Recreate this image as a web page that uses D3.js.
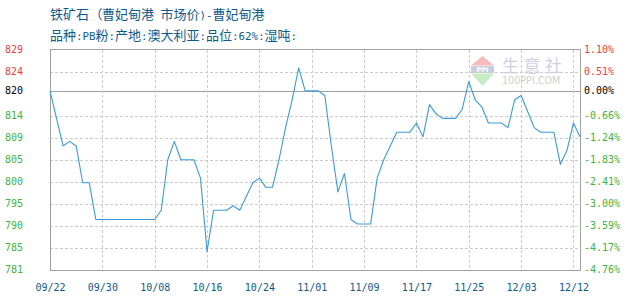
<!DOCTYPE html>
<html>
<head>
<meta charset="utf-8">
<script src="https://cdn.jsdelivr.net/npm/d3@7"></script>
<style>
  html, body { margin: 0; padding: 0; background: #fff; }
  svg { display: block; }
</style>
</head>
<body>
<svg id="chart" width="630" height="300"></svg>
<script>
// ---------- data ----------
const title = "铁矿石 （曹妃甸港 市场价)-曹妃甸港";
const subtitle = "品种:PB粉:产地:澳大利亚:品位:62%:湿吨:";
const baseValue = 820;

const dates = [
  "09/22","09/23","09/24","09/25","09/26","09/27","09/28","09/29","09/30",
  "10/01","10/02","10/03","10/04","10/05","10/06","10/07","10/08","10/09","10/10","10/11",
  "10/12","10/13","10/14","10/15","10/16","10/17","10/18","10/19","10/20","10/21",
  "10/22","10/23","10/24","10/25","10/26","10/27","10/28","10/29","10/30","10/31",
  "11/01","11/02","11/03","11/04","11/05","11/06","11/07","11/08","11/09","11/10",
  "11/11","11/12","11/13","11/14","11/15","11/16","11/17","11/18","11/19","11/20",
  "11/21","11/22","11/23","11/24","11/25","11/26","11/27","11/28","11/29","11/30",
  "12/01","12/02","12/03","12/04","12/05","12/07","12/08","12/09","12/10","12/11",
  "12/12","12/13"
];

const prices = [
  820,814,808,809,808,800,800,792,792,792,
  792,792,792,792,792,792,792,794,805,809,
  805,805,805,801,785,794,794,794,795,794,
  797,800,801,799,799,805,812,818,825,820,
  820,820,819,808,798,802,792,791,791,791,
  801,805,808,811,811,811,813,810,817,815,
  814,814,814,816,822,818,816.5,813,813,813,
  812,818,819,815.5,812,811,811,811,804,807,
  813,810
];

const xTickLabels = ["09/22","09/30","10/08","10/16","10/24","11/01","11/09","11/17","11/25","12/03","12/12"];

const yTickValues = [829, 824.2, 820, 814.6, 809.8, 805, 800.2, 795.4, 790.6, 785.8, 781];
const yTickLabels = ["829","824","820","814","809","805","800","795","790","785","781"];
const pctTickLabels = ["1.10%","0.51%","0.00%","-0.66%","-1.24%","-1.83%","-2.41%","-3.00%","-3.59%","-4.17%","-4.76%"];

// ---------- layout ----------
const svg = d3.select("#chart");
const plotL = 50, plotR = 580, plotT = 49.5, plotB = 270;

const x = d3.scalePoint().domain(dates).range([plotL, plotR]);
const y = d3.scaleLinear().domain([781, 829]).range([plotB, plotT]);

const colRed = "#f03c3c", colGreen = "#3cb43c", colBlack = "#000";
const colorFor = v => Math.abs(v - baseValue) < 1e-9 ? colBlack : (v > baseValue ? colRed : colGreen);

// mixed text: CJK in Noto Sans CJK, ASCII in monospace with half-width advance
function mixedText(str, xPos, yPos, size, color) {
  const t = svg.append("text").attr("x", xPos).attr("y", yPos).attr("fill", color);
  const runs = [];
  for (const ch of str) {
    const ascii = ch.charCodeAt(0) < 128;
    const paren = ch === "（";
    const last = runs[runs.length - 1];
    if (last && last.ascii === ascii && !paren && !last.paren) last.s += ch;
    else runs.push({ ascii, paren, s: ch });
  }
  let pendingDx = 0;
  runs.forEach(r => {
    const ts = t.append("tspan")
      .attr("font-family", r.ascii ? "'DejaVu Sans Mono', monospace" : "'Noto Sans CJK SC', sans-serif")
      .attr("font-size", r.ascii ? size * 0.83 : size)
      .style("white-space", "pre")
      .text(r.s);
    if (r.paren) ts.attr("dx", -6);
    if (pendingDx) { ts.attr("dx", pendingDx); pendingDx = 0; }
    if (r.paren) pendingDx = -0.5;
  });
  return t;
}
mixedText(title, 50, 19, 13, "#0e5a8c");
mixedText(subtitle, 50, 39.5, 13, "#0e5a8c");

// watermark
const wm = svg.append("g");
wm.append("polygon").attr("points", "482.5,56 494,65.5 471,65.5").attr("fill", "#f6bcbc");
wm.append("rect").attr("x", 471).attr("y", 66).attr("width", 23).attr("height", 7).attr("fill", "#c9cde3");
wm.append("text").attr("x", 482.5).attr("y", 72.3).attr("text-anchor", "middle")
  .attr("font-family", "'DejaVu Sans', sans-serif").attr("font-size", 6.5).attr("font-weight", "bold")
  .attr("fill", "#ffffff").text("PPI");
wm.append("polygon").attr("points", "471,73.5 494,73.5 482.5,86").attr("fill", "#c6ecc6");
wm.append("text").attr("x", 502).attr("y", 71.5)
  .attr("font-family", "'Noto Sans CJK SC', sans-serif").attr("font-size", 17)
  .attr("letter-spacing", 4.5).attr("fill", "#ccd0e4").text("生意社");
wm.append("text").attr("x", 502).attr("y", 84)
  .attr("font-family", "'DejaVu Sans', sans-serif").attr("font-size", 9.6)
  .attr("fill", "#cfcfcf").text("100PPI.COM");

// grid
const grid = svg.append("g").attr("shape-rendering", "crispEdges");
yTickValues.forEach(v => {
  if (v === 829 || v === 781) return;
  const yy = Math.round(y(v)) + 0.5;
  if (v === baseValue) {
    grid.append("line").attr("x1", plotL).attr("x2", plotR + 1)
      .attr("y1", yy).attr("y2", yy).attr("stroke", "#a0a0a0").attr("stroke-width", 1);
  } else {
    grid.append("line").attr("x1", plotL).attr("x2", plotR)
      .attr("y1", yy).attr("y2", yy).attr("stroke", "#cccccc")
      .attr("stroke-dasharray", "3,2");
  }
});
xTickLabels.forEach(d => {
  const xx = Math.round(x(d)) + 0.5;
  if (xx <= plotL + 1) return;
  grid.append("line").attr("x1", xx).attr("x2", xx)
    .attr("y1", plotT).attr("y2", plotB).attr("stroke", "#cccccc")
    .attr("stroke-dasharray", "3,2");
});

// frame
svg.append("rect").attr("x", plotL + 0.5).attr("y", 49.5)
  .attr("width", plotR - plotL).attr("height", 270.5 - 49.5)
  .attr("fill", "none").attr("stroke", "#a0a0a0").attr("shape-rendering", "crispEdges");

// y axis labels (left)
const yAxisL = d3.axisLeft(y).tickValues(yTickValues).tickSize(0)
  .tickFormat((d, i) => yTickLabels[i]);
const gL = svg.append("g").attr("transform", "translate(5,0)").call(yAxisL);
gL.select(".domain").remove();
gL.selectAll("text")
  .attr("x", 0).attr("dy", "0.32em").attr("text-anchor", "start")
  .attr("font-family", "'DejaVu Sans Mono', monospace").attr("font-size", 10)
  .attr("fill", d => colorFor(d))
  .attr("transform", "translate(0,-0.5)");

// y axis labels (right, percent)
const yAxisR = d3.axisRight(y).tickValues(yTickValues).tickSize(0)
  .tickFormat((d, i) => pctTickLabels[i]);
const gR = svg.append("g").attr("transform", "translate(584,0)").call(yAxisR);
gR.select(".domain").remove();
gR.selectAll("text")
  .attr("x", 0).attr("dy", "0.32em").attr("text-anchor", "start")
  .attr("font-family", "'DejaVu Sans Mono', monospace").attr("font-size", 10)
  .attr("fill", d => colorFor(d))
  .attr("transform", "translate(0,-0.5)");

// x axis labels
const xAxis = d3.axisBottom(x).tickValues(xTickLabels).tickSize(0);
const gX = svg.append("g").attr("transform", `translate(0,${plotB})`).call(xAxis);
gX.select(".domain").remove();
gX.selectAll("text")
  .attr("y", 21).attr("dy", 0)
  .attr("font-family", "'DejaVu Sans Mono', monospace").attr("font-size", 10)
  .attr("fill", "#0e5a8c");

// line
const line = d3.line().x((d, i) => x(dates[i])).y(d => y(d));
svg.append("path").datum(prices)
  .attr("d", line)
  .attr("fill", "none").attr("stroke", "#3b9bdb").attr("stroke-width", 1.1)
  .attr("stroke-linejoin", "round");
</script>
</body>
</html>
